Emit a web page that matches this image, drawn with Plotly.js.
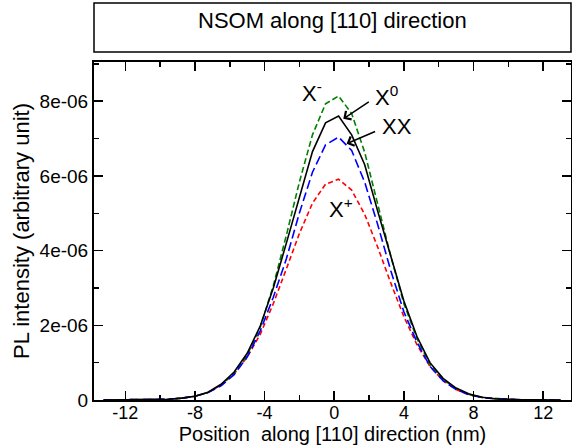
<!DOCTYPE html>
<html>
<head>
<meta charset="utf-8">
<script src="https://cdn.plot.ly/plotly-3.0.1.min.js"></script>
<style>html,body{margin:0;padding:0;background:#fff;}#chart{width:572px;height:447px;}</style>
</head>
<body>
<div id="chart"></div>
<script>
// Position along [110] (nm)
const positions = [-13.25, -12.5, -11.75, -11, -10.25, -9.5, -8.75, -8, -7.25, -6.5, -5.75, -5, -4.25, -3.5, -2.75, -2, -1.25, -0.5, 0.25, 1, 1.75, 2.5, 3.25, 4, 4.75, 5.5, 6.25, 7, 7.75, 8.5, 9.25, 10, 10.75, 11.5, 12.25, 13];
// PL intensity in units of 1e-6
const xMinus = [0.0005, 0.001, 0.002, 0.004, 0.01, 0.022, 0.05, 0.1, 0.2, 0.4, 0.72, 1.2, 1.95, 3.06, 4.41, 5.84, 7.1, 7.93, 8.14, 7.67, 6.63, 5.27, 3.85, 2.58, 1.65, 0.95, 0.55, 0.3, 0.15, 0.07, 0.032, 0.014, 0.006, 0.003, 0.001, 0.0005];
const xZero = [0.0005, 0.001, 0.002, 0.004, 0.01, 0.022, 0.05, 0.1, 0.21, 0.42, 0.75, 1.25, 1.98, 3.0, 4.2, 5.45, 6.65, 7.42, 7.6, 7.1, 6.3, 5.05, 3.85, 2.65, 1.7, 1.0, 0.58, 0.32, 0.16, 0.075, 0.035, 0.015, 0.007, 0.003, 0.001, 0.0005];
const xxBiexciton = [0.0005, 0.001, 0.002, 0.004, 0.01, 0.022, 0.05, 0.1, 0.2, 0.38, 0.68, 1.15, 1.85, 2.75, 3.78, 5.01, 6.1, 6.83, 7.04, 6.68, 5.83, 4.69, 3.46, 2.36, 1.55, 0.9, 0.52, 0.28, 0.14, 0.066, 0.03, 0.013, 0.006, 0.003, 0.001, 0.0005];
const xPlus = [0.0005, 0.001, 0.002, 0.004, 0.009, 0.02, 0.045, 0.1, 0.2, 0.4, 0.7, 1.15, 1.76, 2.58, 3.51, 4.46, 5.27, 5.78, 5.91, 5.62, 4.97, 4.09, 3.13, 2.23, 1.48, 0.9, 0.52, 0.28, 0.14, 0.065, 0.03, 0.013, 0.006, 0.003, 0.001, 0.0005];

const xTickVals = [-12, -8, -4, 0, 4, 8, 12];
const xTickText = ['-12', '-8', '-4', '0', '4', '8', '12'];
const yTickVals = [0, 2e-6, 4e-6, 6e-6, 8e-6];
const yTickText = ['0', '2e-06', '4e-06', '6e-06', '8e-06'];

const scale = v => v * 1e-6;
const FONT = 'Liberation Sans, Arial, Helvetica, sans-serif';

const traces = [
  {x: positions, y: xPlus.map(scale), mode: 'lines', line: {color: '#ff0000', width: 1.6, dash: '5px,3px'}},
  {x: positions, y: xMinus.map(scale), mode: 'lines', line: {color: '#008000', width: 1.6, dash: '6px,3px'}},
  {x: positions, y: xxBiexciton.map(scale), mode: 'lines', line: {color: '#0000ff', width: 1.6, dash: '9px,4px'}},
  {x: positions, y: xZero.map(scale), mode: 'lines', line: {color: '#000000', width: 1.6}}
];

const axisCommon = {
  showline: true, linewidth: 2, linecolor: '#000', mirror: 'allticks',
  ticks: 'inside', ticklen: 9, tickwidth: 1.5, tickcolor: '#000',
  showgrid: false, zeroline: false,
  tickfont: {family: FONT, size: 18, color: '#000'}
};

const layout = {
  width: 572, height: 447,
  margin: {l: 94, r: 1, t: 62, b: 47},
  paper_bgcolor: '#fff', plot_bgcolor: '#fff',
  showlegend: false,
  font: {family: FONT, color: '#000'},
  xaxis: Object.assign({}, axisCommon, {
    range: [-13.8, 13.6],
    tickmode: 'array', tickvals: xTickVals, ticktext: xTickText,
    ticklabelstandoff: -5,
    minor: {tickmode: 'linear', tick0: 0, dtick: 2, ticks: 'inside', ticklen: 5, tickwidth: 1.5, tickcolor: '#000'},
    title: {text: 'Position\u00a0 along [110] direction (nm)', font: {family: FONT, size: 20, color: '#000'}, standoff: 0}
  }),
  yaxis: Object.assign({}, axisCommon, {
    range: [0, 9.05e-6],
    tickmode: 'array', tickvals: yTickVals, ticktext: yTickText,
    tickfont: {family: FONT, size: 19, color: '#000'},
    minor: {tickmode: 'linear', tick0: 0, dtick: 1e-6, ticks: 'inside', ticklen: 5, tickwidth: 1.5, tickcolor: '#000'},
    title: {text: 'PL intensity (arbitrary unit)', font: {family: FONT, size: 22, color: '#000'}, standoff: 4}
  }),
  shapes: [
    {type: 'rect', xref: 'paper', yref: 'paper', x0: 0, x1: 1, y0: 1.0296, y1: 1.1746, line: {color: '#000', width: 1.5}}
  ],
  annotations: [
    {xref: 'paper', yref: 'paper', x: 0.5, y: 1.124, xanchor: 'center', yanchor: 'middle', showarrow: false,
     text: 'NSOM along [110] direction', font: {family: FONT, size: 22, color: '#000'}},
    {xref: 'x', yref: 'y', x: -1.95, y: 8.25e-6, xanchor: 'left', yanchor: 'middle', showarrow: false,
     text: 'X<sup>-</sup>', font: {family: FONT, size: 22, color: '#000'}},
    {xref: 'x', yref: 'y', x: 2.24, y: 8.15e-6, xanchor: 'left', yanchor: 'middle', showarrow: false,
     text: 'X<sup>0</sup>', font: {family: FONT, size: 22, color: '#000'}},
    {xref: 'x', yref: 'y', x: 2.6, y: 7.31e-6, xanchor: 'left', yanchor: 'middle', showarrow: false,
     text: 'XX', font: {family: FONT, size: 22, color: '#000'}},
    {xref: 'x', yref: 'y', x: -0.44, y: 5.15e-6, xanchor: 'left', yanchor: 'middle', showarrow: false,
     text: 'X<sup>+</sup>', font: {family: FONT, size: 22, color: '#000'}},
    {xref: 'x', yref: 'y', x: 0.52, y: 7.53e-6, ax: 27, ay: -18, text: '', showarrow: true,
     arrowhead: 4, arrowsize: 1.3, arrowwidth: 1.5, arrowcolor: '#000', standoff: 0, startstandoff: 0},
    {xref: 'x', yref: 'y', x: 0.71, y: 6.86e-6, ax: 30, ay: -13, text: '', showarrow: true,
     arrowhead: 4, arrowsize: 1.3, arrowwidth: 1.5, arrowcolor: '#000', standoff: 0, startstandoff: 0}
  ]
};

Plotly.newPlot('chart', traces, layout, {staticPlot: true, displayModeBar: false});
</script>
</body>
</html>
